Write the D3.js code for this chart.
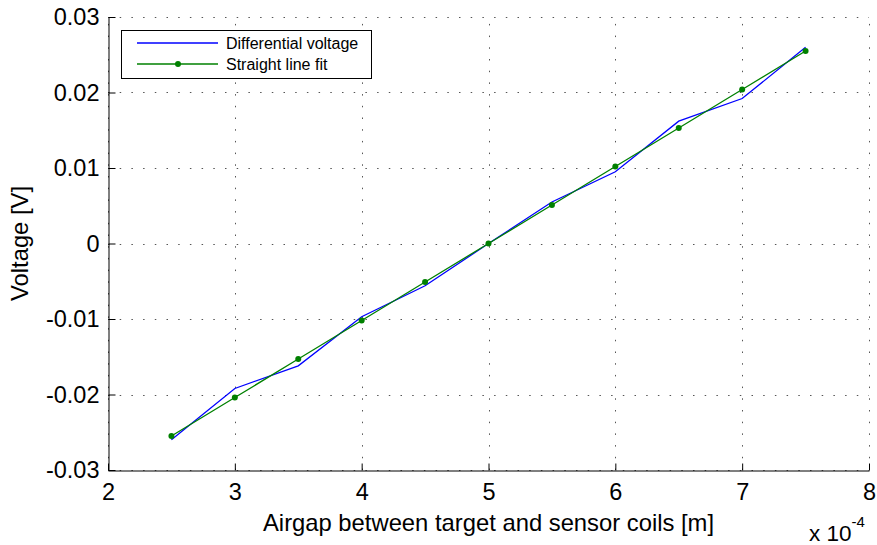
<!DOCTYPE html>
<html>
<head>
<meta charset="utf-8">
<script src="https://cdn.jsdelivr.net/npm/d3@7"></script>
<style>
  body { margin: 0; background: #fff; }
  svg { display: block; font-family: "Liberation Sans", Arial, sans-serif; }
</style>
</head>
<body>
<svg id="chart" width="877" height="545"></svg>
<script>
// airgap values (x 10^-4 m)
const airgap = [2.5, 3, 3.5, 4, 4.5, 5, 5.5, 6, 6.5, 7, 7.5];
// measured differential voltage [V]
const diffVoltage = [-0.0260, -0.0192, -0.0162, -0.0097, -0.0056, 0, 0.0055, 0.0095, 0.0162, 0.0192, 0.0260];
// straight line fit [V]
const lineFit = [-0.0255, -0.0204, -0.0153, -0.0102, -0.0051, 0, 0.0051, 0.0102, 0.0153, 0.0204, 0.0255];
const xTicks = [2, 3, 4, 5, 6, 7, 8];
const yTicks = [-0.03, -0.02, -0.01, 0, 0.01, 0.02, 0.03];

const width = 877, height = 545;
const margin = { top: 17, right: 8, bottom: 75, left: 108 };

const svg = d3.select("#chart");

const x = d3.scaleLinear()
  .domain([2, 8])
  .range([margin.left, width - margin.right]);

const y = d3.scaleLinear()
  .domain([-0.03, 0.03])
  .range([height - margin.bottom, margin.top]);

//grid
const grid = svg.append("g")
  .attr("stroke", "#555")
  .attr("stroke-width", 1)
  .attr("stroke-dasharray", "1.5,10.2");

grid.selectAll(".gx")
  .data(xTicks)
  .join("line")
  .attr("x1", d => Math.round(x(d)) + 0.5)
  .attr("x2", d => Math.round(x(d)) + 0.5)
  .attr("y1", y(-0.03))
  .attr("y2", y(0.03));

grid.selectAll(".gy")
  .data(yTicks)
  .join("line")
  .attr("y1", d => Math.round(y(d)) + 0.5)
  .attr("y2", d => Math.round(y(d)) + 0.5)
  .attr("x1", x(2))
  .attr("x2", x(8));

//axes
const xAxis = g => g
  .attr("transform", `translate(0,${Math.round(y(-0.03)) + 0.5})`)
  .call(d3.axisBottom(x)
    .tickValues(xTicks)
    .tickFormat(d3.format("d"))
    .tickSizeInner(-7)
    .tickSizeOuter(0)
    .tickPadding(13))
  .call(g => g.select(".domain").attr("stroke", "#000"))
  .call(g => g.selectAll(".tick line").attr("stroke", "#000"))
  .call(g => g.selectAll(".tick text")
    .attr("fill", "#000")
    .attr("font-size", 23.5)
    .attr("font-family", "Liberation Sans, Arial, sans-serif"));

const yAxis = g => g
  .attr("transform", `translate(${Math.round(x(2)) + 0.5},0)`)
  .call(d3.axisLeft(y)
    .tickValues(yTicks)
    .tickFormat(d => d === 0 ? "0" : d3.format(".2f")(d).replace("−", "-"))
    .tickSizeInner(-7)
    .tickSizeOuter(0)
    .tickPadding(9))
  .call(g => g.select(".domain").attr("stroke", "#000"))
  .call(g => g.selectAll(".tick line").attr("stroke", "#000"))
  .call(g => g.selectAll(".tick text")
    .attr("fill", "#000")
    .attr("font-size", 23.5)
    .attr("font-family", "Liberation Sans, Arial, sans-serif"));

svg.append("g").call(xAxis);
svg.append("g").call(yAxis);

//lines
const line = (vals) => d3.line()
  .x((d, i) => x(airgap[i]))
  .y(d => y(d))(vals);

svg.append("path")
  .attr("d", line(diffVoltage))
  .attr("fill", "none")
  .attr("stroke", "#0000ff")
  .attr("stroke-width", 1.3);

svg.append("path")
  .attr("d", line(lineFit))
  .attr("fill", "none")
  .attr("stroke", "#008000")
  .attr("stroke-width", 1.3);

svg.selectAll(".dot")
  .data(lineFit)
  .join("circle")
  .attr("cx", (d, i) => x(airgap[i]))
  .attr("cy", d => y(d))
  .attr("r", 3)
  .attr("fill", "#008000");

//legend
const legend = svg.append("g");
legend.append("rect")
  .attr("x", 121.5).attr("y", 30.5)
  .attr("width", 250).attr("height", 48)
  .attr("fill", "#fff").attr("stroke", "#000");

const legendItems = [
  { name: "Differential voltage", color: "#0000ff", marker: false, yy: 43 },
  { name: "Straight line fit", color: "#008000", marker: true, yy: 64 }
];
legendItems.forEach(it => {
  legend.append("line")
    .attr("x1", 137).attr("x2", 218)
    .attr("y1", it.yy).attr("y2", it.yy)
    .attr("stroke", it.color).attr("stroke-width", 1.3);
  if (it.marker) {
    legend.append("circle")
      .attr("cx", 178).attr("cy", it.yy).attr("r", 3)
      .attr("fill", it.color);
  }
  legend.append("text")
    .attr("x", 226).attr("y", it.yy)
    .attr("dy", "0.35em")
    .attr("font-size", 16)
    .text(it.name);
});

//labels
svg.append("text")
  .attr("x", (x(2) + x(8)) / 2)
  .attr("y", 531)
  .attr("text-anchor", "middle")
  .attr("font-size", 23.8)
  .text("Airgap between target and sensor coils [m]");

svg.append("text")
  .attr("transform", `translate(28,${(y(-0.03) + y(0.03)) / 2}) rotate(-90)`)
  .attr("text-anchor", "middle")
  .attr("font-size", 23.8)
  .text("Voltage [V]");

const exp = svg.append("text")
  .attr("x", 809)
  .attr("y", 541)
  .attr("font-size", 22.5);
exp.append("tspan").text("x 10");
exp.append("tspan").attr("dy", -14).attr("font-size", 15).text("-4");
</script>
</body>
</html>
